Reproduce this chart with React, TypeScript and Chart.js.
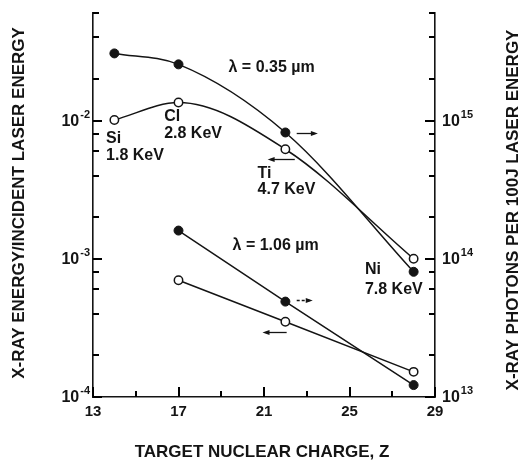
import { useEffect, useRef } from "react";
import { Chart, registerables } from "chart.js";

Chart.register(...registerables);

// ---- data ----
const zShort = [14, 17, 22, 28];
const energy035 = [0.0101, 0.0135, 0.0062, 0.001]; // open circles, left axis
const photons035 = [3.06e15, 2.55e15, 8.2e14, 8.05e13]; // filled circles, right axis
const zLong = [17, 22, 28];
const energy106 = [7.0e-4, 3.5e-4, 1.52e-4]; // open circles, left axis
const photons106 = [1.6e14, 4.9e13, 1.22e13]; // filled circles, right axis

// ---- axes / ticks ----
const xMajorTicks = [13, 17, 21, 25, 29];
const xMinorTicks = [15, 19, 23, 27];
const leftMajor = [1e-4, 1e-3, 1e-2];
const leftExp = ["-4", "-3", "-2"];
const leftMinor = [2e-4, 4e-4, 6e-4, 8e-4, 2e-3, 4e-3, 6e-3, 8e-3, 2e-2, 4e-2, 6e-2];
const rightMajor = [1e13, 1e14, 1e15];
const rightExp = ["13", "14", "15"];
const rightMinor = [2e13, 4e13, 6e13, 8e13, 2e14, 4e14, 6e14, 8e14, 2e15, 4e15, 6e15];

// ---- text ----
const xTitle = "TARGET NUCLEAR CHARGE, Z";
const leftTitle = "X-RAY ENERGY/INCIDENT LASER ENERGY";
const rightTitle = "X-RAY PHOTONS PER 100J LASER ENERGY";
const labelTexts = ["λ = 0.35 µm", "Si", "1.8 KeV", "Cl", "2.8 KeV", "Ti", "4.7 KeV", "Ni", "7.8 KeV", "λ = 1.06 µm"];
// anchor of each label in data coords (Z, left-axis value); left aligned, vertically centred
const labelZ = [19.34, 13.61, 13.61, 16.33, 16.33, 20.7, 20.7, 25.72, 25.72, 19.53];
const labelV = [0.0243, 0.0074, 0.00556, 0.01069, 0.00804, 0.00412, 0.00315, 8.3e-4, 6.0e-4, 1.245e-3];

// arrows: from z0 to z1 (head at z1), at left-axis value v
const arrowZ0 = [22.53, 22.44, 22.53, 22.06];
const arrowZ1 = [23.52, 21.17, 23.28, 20.93];
const arrowV = [8.18e-3, 5.3e-3, 5.02e-4, 2.93e-4];
const arrowDashed = [false, false, true, false];

const FONT = '"Liberation Sans", Arial, Helvetica, sans-serif';
const INK = "#141414";

function drawTicks(chart: any) {
  const ctx = chart.ctx as CanvasRenderingContext2D;
  const xs = chart.scales.x;
  const yl = chart.scales.yL;
  const yr = chart.scales.yR;
  const area = chart.chartArea;
  ctx.save();
  ctx.globalAlpha = 1;
  ctx.globalCompositeOperation = "source-over";
  ctx.fillStyle = "#000000";
  const T = 2;
  xMajorTicks.forEach((v) => {
    const px = Math.round(xs.getPixelForValue(v));
    ctx.fillRect(px - 1, area.bottom - 10, T, 10);
  });
  xMinorTicks.forEach((v) => {
    const px = Math.round(xs.getPixelForValue(v));
    ctx.fillRect(px - 1, area.bottom - 6, T, 6);
  });
  leftMajor.forEach((v) => {
    const py = Math.round(yl.getPixelForValue(v));
    ctx.fillRect(area.left, py - 1, 9, T);
  });
  leftMinor.forEach((v) => {
    const py = Math.round(yl.getPixelForValue(v));
    ctx.fillRect(area.left, py - 1, 6, T);
  });
  rightMajor.forEach((v) => {
    const py = Math.round(yr.getPixelForValue(v));
    ctx.fillRect(area.right - 10, py - 1, 10, T);
  });
  rightMinor.forEach((v) => {
    const py = Math.round(yr.getPixelForValue(v));
    ctx.fillRect(area.right - 6, py - 1, 6, T);
  });
  ctx.restore();
}

const tickOverlay = {
  id: "tickOverlay",
  afterDatasetsDraw(chart: any) {
    drawTicks(chart);
  },
};

const textOverlay = {
  id: "textOverlay",
  afterDraw(chart: any) {
    const ctx = chart.ctx as CanvasRenderingContext2D;
    const xs = chart.scales.x;
    const yl = chart.scales.yL;
    const yr = chart.scales.yR;
    const area = chart.chartArea;
    ctx.save();
    ctx.fillStyle = INK;
    ctx.strokeStyle = INK;

    // tick labels
    ctx.textBaseline = "middle";
    ctx.font = `bold 15px ${FONT}`;
    ctx.textAlign = "center";
    xMajorTicks.forEach((v) => {
      ctx.fillText(String(v), xs.getPixelForValue(v), area.bottom + 15);
    });
    const pow = (exp: string, x: number, y: number, alignRight: boolean) => {
      ctx.textAlign = "left";
      ctx.font = `bold 16px ${FONT}`;
      const wb = ctx.measureText("10").width;
      ctx.font = `bold 11px ${FONT}`;
      const we = ctx.measureText(exp).width;
      const x0 = alignRight ? x - (wb + 1 + we) : x;
      ctx.font = `bold 16px ${FONT}`;
      ctx.fillText("10", x0, y + 1);
      ctx.font = `bold 11px ${FONT}`;
      ctx.fillText(exp, x0 + wb + 1, y - 6);
    };
    leftMajor.forEach((v, i) => pow(leftExp[i], area.left - 3, yl.getPixelForValue(v), true));
    rightMajor.forEach((v, i) => pow(rightExp[i], area.right + 7, yr.getPixelForValue(v), false));

    // axis titles
    ctx.font = `bold 17px ${FONT}`;
    ctx.textAlign = "center";
    ctx.fillText(xTitle, (area.left + area.right) / 2 - 2, 452);
    ctx.save();
    ctx.translate(19, 203);
    ctx.rotate(-Math.PI / 2);
    ctx.fillText(leftTitle, 0, 0);
    ctx.restore();
    ctx.save();
    ctx.translate(513, 210);
    ctx.rotate(-Math.PI / 2);
    ctx.fillText(rightTitle, 0, 0);
    ctx.restore();

    // annotation labels
    ctx.font = `bold 16px ${FONT}`;
    ctx.textAlign = "left";
    labelTexts.forEach((t, i) => {
      ctx.fillText(t, xs.getPixelForValue(labelZ[i]), yl.getPixelForValue(labelV[i]));
    });

    // arrows
    ctx.lineWidth = 1.3;
    arrowZ0.forEach((z0, i) => {
      const x0 = xs.getPixelForValue(z0);
      const x1 = xs.getPixelForValue(arrowZ1[i]);
      const y = Math.round(yl.getPixelForValue(arrowV[i])) + 0.5;
      const dir = x1 > x0 ? 1 : -1;
      ctx.setLineDash(arrowDashed[i] ? [3, 2] : []);
      ctx.beginPath();
      ctx.moveTo(x0, y);
      ctx.lineTo(x1 - dir * 3, y);
      ctx.stroke();
      ctx.setLineDash([]);
      ctx.beginPath();
      ctx.moveTo(x1, y);
      ctx.lineTo(x1 - dir * 7, y - 2.5);
      ctx.lineTo(x1 - dir * 7, y + 2.5);
      ctx.closePath();
      ctx.fill();
    });
    ctx.restore();

    // ticks once more, last of all
    drawTicks(chart);
  },
};

export default function App() {
  const ref = useRef<HTMLCanvasElement | null>(null);
  useEffect(() => {
    document.body.style.margin = "0";
    const canvas = ref.current;
    if (!canvas) return;
    const filled = {
      pointRadius: 4.5,
      pointBackgroundColor: INK,
      pointBorderColor: INK,
      pointBorderWidth: 1,
    };
    const open = {
      pointRadius: 4.2,
      pointBackgroundColor: "#ffffff",
      pointBorderColor: INK,
      pointBorderWidth: 1.5,
    };
    const axisCommon = {
      grid: { display: false, drawTicks: false, tickLength: 0 },
      ticks: { display: false },
      border: { display: true, color: INK, width: 1.6 },
    };
    const chart = new Chart(canvas, {
      type: "line",
      data: {
        datasets: [
          {
            label: "0.35 photons",
            data: zShort.map((z, i) => ({ x: z, y: photons035[i] })),
            yAxisID: "yR",
            borderColor: INK,
            borderWidth: 1.5,
            cubicInterpolationMode: "monotone",
            ...filled,
          },
          {
            label: "0.35 energy",
            data: zShort.map((z, i) => ({ x: z, y: energy035[i] })),
            yAxisID: "yL",
            borderColor: INK,
            borderWidth: 1.5,
            cubicInterpolationMode: "monotone",
            ...open,
          },
          {
            label: "1.06 photons",
            data: zLong.map((z, i) => ({ x: z, y: photons106[i] })),
            yAxisID: "yR",
            borderColor: INK,
            borderWidth: 1.5,
            tension: 0,
            ...filled,
          },
          {
            label: "1.06 energy",
            data: zLong.map((z, i) => ({ x: z, y: energy106[i] })),
            yAxisID: "yL",
            borderColor: INK,
            borderWidth: 1.5,
            tension: 0,
            ...open,
          },
        ],
      },
      options: {
        animation: false,
        responsive: false,
        devicePixelRatio: 1,
        layout: { padding: { left: 93, right: 86, top: 13, bottom: 67 } },
        plugins: { legend: { display: false }, tooltip: { enabled: false } },
        scales: {
          x: { type: "linear", min: 13, max: 29, ...axisCommon },
          yL: { type: "logarithmic", position: "left", min: 1e-4, max: 6e-2, ...axisCommon },
          yR: { type: "logarithmic", position: "right", min: 1e13, max: 6e15, ...axisCommon },
        },
      },
      plugins: [tickOverlay, textOverlay],
    } as any);
    return () => chart.destroy();
  }, []);
  return (
    <div style={{ width: 521, height: 464, background: "#fff" }}>
      <canvas ref={ref} width={521} height={464} style={{ display: "block" }} />
    </div>
  );
}
